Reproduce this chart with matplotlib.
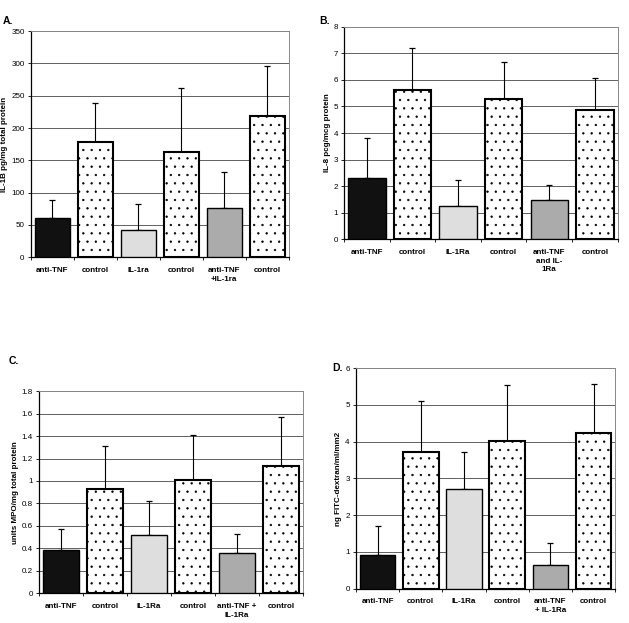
import numpy as np
import matplotlib
matplotlib.use("Agg")
import matplotlib.pyplot as plt

plt.rcParams['font.family'] = ['Liberation Sans', 'DejaVu Sans']
plt.rcParams['hatch.linewidth'] = 0.45

# bar order: treatment / control pairs
styles = ['black', 'dots', 'light', 'dots', 'mid', 'dots']

labels_a = ['anti-TNF', 'control', 'IL-1ra', 'control', 'anti-TNF\n+IL-1ra', 'control']
mean_a = [61, 179, 42, 163, 77, 218]
top_a = [88, 239, 83, 262, 132, 296]

labels_b = ['anti-TNF', 'control', 'IL-1Ra', 'control', 'anti-TNF\nand IL-\n1Ra', 'control']
mean_b = [2.3, 5.62, 1.25, 5.27, 1.47, 4.88]
top_b = [3.82, 7.22, 2.23, 6.67, 2.05, 6.08]

labels_c = ['anti-TNF', 'control', 'IL-1Ra', 'control', 'anti-TNF +\nIL-1Ra', 'control']
mean_c = [0.38, 0.93, 0.52, 1.01, 0.36, 1.13]
top_c = [0.57, 1.31, 0.82, 1.41, 0.53, 1.57]

labels_d = ['anti-TNF', 'control', 'IL-1Ra', 'control', 'anti-TNF\n+ IL-1Ra', 'control']
mean_d = [0.91, 3.73, 2.72, 4.03, 0.65, 4.25]
top_d = [1.71, 5.12, 3.73, 5.54, 1.24, 5.57]

panels = [
    ('A.', labels_a, mean_a, top_a, 'IL-1B pg/mg total protein', 350, 50, '%d',
     [0.049, 0.587, 0.410, 0.363], (0.004, 0.975)),
    ('B.', labels_b, mean_b, top_b, 'IL-8 pcg/mcg protein', 8, 1, '%d',
     [0.547, 0.616, 0.435, 0.341], (0.507, 0.975)),
    ('C.', labels_c, mean_c, top_c, 'units MPO/mg total protein', 1.8, 0.2, '%g',
     [0.062, 0.048, 0.420, 0.324], (0.013, 0.428)),
    ('D.', labels_d, mean_d, top_d, 'ng FITC-dextran/ml/mm2', 6, 1, '%d',
     [0.566, 0.055, 0.412, 0.354], (0.528, 0.418)),
]

fig = plt.figure(figsize=(6.29, 6.23), dpi=100)

for tag, labels, mean, top, ylab, ymax, step, fmt, rect, tagpos in panels:
    ax = fig.add_axes(rect)
    x = np.arange(len(labels))
    mean = np.array(mean)
    err = np.array(top) - mean
    for i, s in enumerate(styles):
        if s == 'dots':
            ax.bar(x[i], mean[i], width=0.82, color='white', edgecolor='black',
                   linewidth=1.5, hatch='..', zorder=3)
        else:
            c = {'black': '#111111', 'light': '#dedede', 'mid': '#ababab'}[s]
            ax.bar(x[i], mean[i], width=0.82, color=c, edgecolor='black',
                   linewidth=1.0, zorder=3)
    ax.errorbar(x, mean, yerr=[np.zeros_like(err), err], fmt='none',
                ecolor='black', elinewidth=0.8, capsize=2.5, capthick=0.9, zorder=2)

    ax.set_xlim(-0.5, len(labels) - 0.5)
    ax.set_ylim(0, ymax)
    ax.set_yticks(np.arange(0, ymax + step / 2, step))
    ax.yaxis.set_major_formatter(matplotlib.ticker.FormatStrFormatter(fmt))
    ax.set_xticks(x)
    ax.set_xticklabels(labels, fontsize=5.8, fontweight='bold', linespacing=1.35)
    ax.set_xticks(np.arange(-0.5, len(labels)), minor=True)
    ax.tick_params(axis='x', which='major', length=0, pad=7)
    ax.tick_params(axis='x', which='minor', length=2.5, width=0.6)
    ax.tick_params(axis='y', labelsize=5.8, length=2.5, width=0.6, pad=2)
    ax.set_ylabel(ylab, fontsize=5.8, fontweight='bold', labelpad=2)
    ax.yaxis.grid(True, color='#606060', linewidth=0.7)
    ax.set_axisbelow(True)
    for side in ['top', 'right']:
        ax.spines[side].set_color('#888888')
        ax.spines[side].set_linewidth(0.7)
    for side in ['left', 'bottom']:
        ax.spines[side].set_linewidth(0.9)
    fig.text(tagpos[0], tagpos[1], tag, fontsize=7.5, fontweight='bold', va='top')

fig.savefig('out.png', dpi=100)
